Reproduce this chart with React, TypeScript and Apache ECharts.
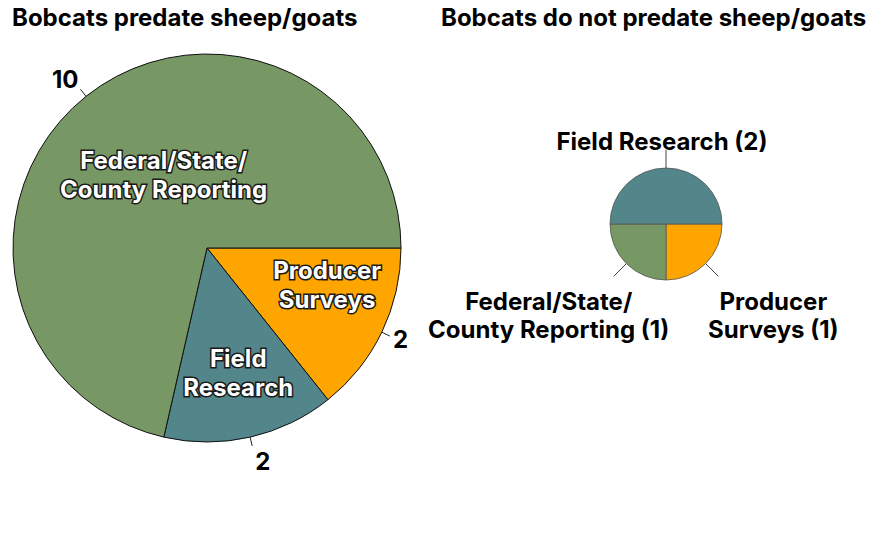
import React, { useEffect, useRef } from "react";
import * as echarts from "echarts";

const leftTitle = "Bobcats predate sheep/goats";
const rightTitle = "Bobcats do not predate sheep/goats";

// Left pie (clockwise from 3 o'clock)
const leftCategories = ["Producer Surveys", "Field Research", "Federal/State/County Reporting"];
const leftValues = [2, 2, 10];
const leftInsideLabels = ["Producer\nSurveys", "Field\nResearch", "Federal/State/\nCounty Reporting"];

// Right pie (clockwise from 3 o'clock)
const rightCategories = ["Producer Surveys", "Federal/State/County Reporting", "Field Research"];
const rightValues = [1, 1, 2];
const rightLabels = ["Producer\nSurveys", "Federal/State/\nCounty Reporting", "Field Research"];

const colorByCategory: Record<string, string> = {
  "Producer Surveys": "#FFA500",
  "Field Research": "#52868A",
  "Federal/State/County Reporting": "#779864",
};

// label offsets (layout only)
const leftInsideOffsets = [
  { dx: 30, dy: -6 },
  { dx: 9, dy: 28 },
  { dx: 19, dy: 5 },
];
const leftOutsideOffsets = [
  { dx: -1, dy: 3 },
  { dx: -1, dy: 16 },
  { dx: 2, dy: -10 },
];
const rightOffsets = [
  { dx: 50, dy: 39 },
  { dx: -60, dy: 39 },
  { dx: 1, dy: -9 },
];

const FONT = "Inter, 'Noto Sans', sans-serif";
const FS = 24;

export default function App() {
  const ref = useRef<HTMLDivElement>(null);
  useEffect(() => {
    document.body.style.margin = "0";
    if (!ref.current) return;
    const chart = echarts.init(ref.current, undefined, { renderer: "svg" });

    const leftData = leftCategories.map((c, i) => ({
      name: c,
      value: leftValues[i],
      itemStyle: { color: colorByCategory[c] },
    }));
    const rightData = rightCategories.map((c, i) => ({
      name: c,
      value: rightValues[i],
      itemStyle: { color: colorByCategory[c] },
    }));

    chart.setOption({
      animation: false,
      backgroundColor: "#ffffff",
      title: [
        {
          text: leftTitle,
          left: 12,
          top: 5,
          padding: 0,
          textStyle: { fontFamily: FONT, fontSize: FS, fontWeight: "bold", color: "#000" },
        },
        {
          text: rightTitle,
          left: 441,
          top: 5,
          padding: 0,
          textStyle: { fontFamily: FONT, fontSize: FS, fontWeight: "bold", color: "#000" },
        },
      ],
      series: [
        {
          type: "pie",
          center: [207, 248],
          radius: 194,
          startAngle: 0,
          clockwise: true,
          avoidLabelOverlap: false,
          silent: true,
          itemStyle: { borderColor: "#111", borderWidth: 1 },
          label: {
            show: true,
            position: "inside",
            formatter: (p: any) => leftInsideLabels[p.dataIndex],
            fontFamily: FONT,
            fontSize: FS,
            fontWeight: "bold",
            lineHeight: 29,
            color: "#fff",
            textBorderColor: "#1a1a1a",
            textBorderWidth: 3,
            align: "center",
          },
          labelLine: { show: false },
          labelLayout: (p: any) => leftInsideOffsets[p.dataIndex],
          data: leftData,
        },
        {
          type: "pie",
          center: [207, 248],
          radius: 194,
          startAngle: 0,
          clockwise: true,
          avoidLabelOverlap: false,
          silent: true,
          itemStyle: { color: "transparent", borderWidth: 0 },
          label: {
            show: true,
            position: "outside",
            formatter: "{c}",
            fontFamily: FONT,
            fontSize: FS,
            fontWeight: "bold",
            color: "#000",
            distanceToLabelLine: 4,
          },
          labelLine: { show: true, length: 9, length2: 0, lineStyle: { color: "#222", width: 1 } },
          labelLayout: (p: any) => leftOutsideOffsets[p.dataIndex],
          data: leftCategories.map((c, i) => ({ name: c, value: leftValues[i] })),
        },
        {
          type: "pie",
          center: [666, 224],
          radius: 56,
          startAngle: 0,
          clockwise: true,
          avoidLabelOverlap: false,
          silent: true,
          itemStyle: { borderColor: "#555", borderWidth: 0.8 },
          label: {
            show: true,
            position: "outside",
            formatter: (p: any) => `${rightLabels[p.dataIndex]} (${p.value})`,
            fontFamily: FONT,
            fontSize: FS,
            fontWeight: "bold",
            lineHeight: 28,
            color: "#000",
            distanceToLabelLine: 5,
          },
          labelLine: { show: true, length: 18, length2: 0, lineStyle: { color: "#444", width: 1 } },
          labelLayout: (p: any) => ({ ...rightOffsets[p.dataIndex], align: "center" }),
          data: rightData,
        },
      ],
    });
    return () => chart.dispose();
  }, []);
  return <div ref={ref} style={{ width: 876, height: 535 }} />;
}
